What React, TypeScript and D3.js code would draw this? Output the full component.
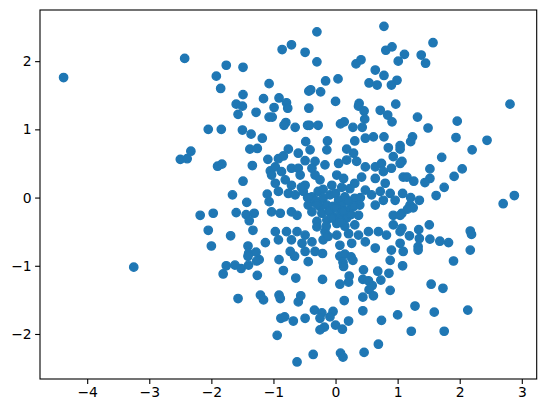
import React, { useEffect, useRef } from 'react';
import * as d3 from 'd3';

// values, [x, y]
const topPoints: [number, number][] = [
  [-4.38, 1.76],
  [-2.43, 2.04], [-1.76, 1.94], [-1.49, 1.91], [-1.92, 1.78], [-1.85, 1.6], [-1.07, 1.67], [-1.49, 1.51],
  [-1.16, 1.45], [-1.6, 1.37], [-1.5, 1.34], [-1.57, 1.22], [-1.28, 1.25], [-1.07, 1.18], [-1.02, 1.18],
  [-2.05, 1.0], [-1.84, 1.0], [-1.5, 0.99],
  [0.78, 2.51], [-0.3, 2.43], [-0.86, 2.17], [-0.71, 2.24], [-0.49, 2.13], [-0.3, 1.99], [0.81, 2.16],
  [0.91, 2.21], [1.11, 2.1], [1.01, 2.0], [0.33, 1.96], [0.41, 2.02], [0.64, 1.87], [0.78, 1.79],
  [0.99, 1.72], [0.9, 1.65], [0.54, 1.68], [0.67, 1.65], [0.04, 1.74], [-0.16, 1.71], [-0.4, 1.58],
  [-0.43, 1.56], [-0.24, 1.55], [-0.91, 1.46], [-0.79, 1.39], [-0.77, 1.31], [-0.99, 1.32], [-0.43, 1.31],
  [0.0, 1.41], [0.38, 1.38], [0.37, 1.34], [0.46, 1.27], [0.97, 1.37], [0.72, 1.28], [0.84, 1.21],
  [0.47, 1.15], [0.91, 1.11], [-0.8, 1.1], [-0.65, 1.03], [-0.45, 1.06], [-0.42, 1.06], [-0.28, 1.06],
  [0.08, 1.08], [0.14, 1.11], [0.28, 1.03], [0.43, 1.03],
  [1.57, 2.27], [1.38, 2.09], [1.45, 1.97], [2.81, 1.37], [1.32, 1.18], [1.96, 1.12], [1.49, 1.02],
  [-0.83, 1.06],
];

const middlePoints: [number, number][] = [
  [-1.36, 0.93], [-1.18, 0.87], [-2.33, 0.68], [-2.5, 0.56], [-2.39, 0.57], [-1.38, 0.71], [-1.26, 0.72],
  [-1.09, 0.56], [-1.9, 0.46], [-1.83, 0.49], [-1.34, 0.47], [-1.05, 0.39], [-1.49, 0.24], [-1.66, 0.04],
  [-1.43, -0.07], [-1.1, 0.05], [-1.07, -0.06], [-2.18, -0.26], [-1.97, -0.23], [-1.6, -0.22], [-1.44, -0.25],
  [-1.31, -0.23], [-1.39, -0.34], [-2.05, -0.48], [-1.69, -0.56], [-1.33, -0.48], [-2.0, -0.71], [-1.41, -0.71],
  [-1.13, -0.66], [-1.4, -0.82], [-1.28, -0.8], [-1.41, -0.86], [-1.23, -0.91], [-1.27, -0.93], [-1.76, -1.0],
  [-1.62, -0.99], [-1.52, -1.04], [-1.4, -0.99],
  [0.61, 0.89], [0.78, 0.89], [-0.48, 0.82], [-0.13, 0.83], [0.31, 0.83], [0.48, 0.87], [-0.76, 0.71],
  [-0.6, 0.65], [-0.41, 0.7], [-0.14, 0.7], [0.18, 0.71], [0.29, 0.65], [0.85, 0.73], [0.93, 0.6],
  [-0.92, 0.57], [-0.84, 0.61], [-0.49, 0.54], [-0.33, 0.53], [-0.17, 0.48], [0.05, 0.5], [0.18, 0.55],
  [0.34, 0.53], [0.48, 0.45], [0.64, 0.45], [0.74, 0.5], [0.77, 0.38], [0.9, 0.43], [1.07, 0.53],
  [-0.97, 0.45], [-1.03, 0.33], [-0.87, 0.38], [-0.71, 0.43], [-0.6, 0.43], [-0.38, 0.43], [-0.57, 0.33],
  [-0.33, 0.33], [0.02, 0.33], [0.13, 0.28], [0.42, 0.3], [0.31, 0.21], [0.64, 0.28], [0.8, 0.21],
  [-0.97, 0.21], [-0.81, 0.26], [-0.71, 0.18], [-0.49, 0.18], [-0.25, 0.26], [-0.06, 0.18], [0.23, 0.13],
  [0.48, 0.11], [0.58, 0.04], [0.72, 0.09], [0.88, 0.06], [0.96, -0.04], [-0.92, 0.09], [-0.76, 0.06],
  [-0.65, 0.04], [-0.52, 0.09], [-0.38, 0.01], [-0.28, 0.09], [-0.2, -0.01], [-0.09, 0.04], [0.05, -0.04],
  [0.15, 0.01], [0.31, -0.01], [0.39, -0.11], [0.64, -0.11], [0.77, -0.04], [-1.03, -0.21], [-0.89, -0.23],
  [-0.71, -0.21], [-0.62, -0.26], [-0.44, -0.11], [-0.33, -0.04], [-0.25, -0.13], [-0.14, -0.11], [-0.04, -0.13],
  [0.1, -0.11], [0.21, -0.18], [0.29, -0.13], [0.37, -0.26], [-0.38, -0.21], [-0.22, -0.23], [-0.06, -0.26],
  [0.07, -0.26], [-0.3, -0.35], [-0.14, -0.33], [0.02, -0.38], [0.18, -0.3], [0.31, -0.4], [0.93, -0.26],
  [1.07, -0.23], [0.93, -0.4], [0.69, -0.5], [0.53, -0.5], [0.82, -0.55], [1.07, -0.45], [-0.97, -0.5],
  [-0.79, -0.5], [-0.62, -0.5], [-0.49, -0.55], [-0.3, -0.43], [-0.17, -0.5], [-0.71, -0.62], [-0.54, -0.67],
  [-0.38, -0.65], [-0.2, -0.62], [-0.92, -0.62], [0.07, -0.7], [0.26, -0.67], [0.48, -0.65], [0.64, -0.74],
  [0.37, -0.55], [0.21, -0.53], [0.02, -0.55], [-0.12, -0.57], [-0.49, -0.79], [-0.33, -0.79], [-0.73, -0.79],
  [0.9, -0.77],
  [1.24, 0.89], [1.21, 0.82], [1.04, 0.76], [1.04, 0.71], [1.94, 0.88], [2.44, 0.84], [2.2, 0.7],
  [1.71, 0.59], [1.04, 0.5], [1.52, 0.42], [2.04, 0.42], [1.91, 0.31], [1.09, 0.3], [1.15, 0.3],
  [1.26, 0.24], [1.52, 0.28], [1.44, 0.22], [1.75, 0.15], [1.62, 0.03], [1.08, 0.06], [1.21, 0.0],
  [1.35, -0.04], [1.2, -0.11], [1.25, -0.15], [1.16, -0.17], [1.04, -0.26], [2.88, 0.03], [2.7, -0.09],
  [1.51, -0.4], [1.34, -0.47], [1.04, -0.5], [1.19, -0.56], [1.35, -0.6], [1.52, -0.61], [1.68, -0.64],
  [1.82, -0.66], [2.17, -0.49], [2.19, -0.54], [1.04, -0.67], [1.33, -0.72], [1.09, -0.79], [1.33, -0.77],
  [2.17, -0.77], [1.9, -0.93],
  [-0.91, -0.91], [-0.66, -0.86], [-0.44, -0.94], [-0.21, -0.82], [0.07, -0.86], [0.15, -0.83], [0.25, -0.87],
  [0.28, -0.92], [0.12, -0.95], [0.88, -0.92],
];

// dense core, partly overlapping marks
const corePoints: [number, number][] = [
  [-0.1, -0.2], [0.0, -0.15], [0.12, -0.2], [0.25, -0.25], [-0.3, -0.1], [-0.45, 0.0], [-0.55, 0.15],
  [0.2, -0.05], [0.0, 0.06], [-0.2, 0.12], [0.1, 0.15], [0.4, 0.0], [-0.15, -0.42], [0.15, -0.42],
  [-0.05, -0.3], [0.08, -0.35],
];

const bottomPoints: [number, number][] = [
  [-3.25, -1.02], [-1.81, -1.12], [-1.26, -1.14], [-1.57, -1.48], [-1.21, -1.43], [-1.16, -1.5],
  [-0.84, -1.07], [-0.64, -1.18], [-0.21, -1.2], [0.13, -1.01], [0.22, -1.15], [0.07, -1.27], [0.21, -1.24],
  [0.45, -1.06], [0.44, -1.2], [0.53, -1.22], [0.59, -1.29], [0.54, -1.35], [0.68, -1.08], [0.73, -1.21],
  [0.86, -1.11], [1.08, -1.0], [0.88, -1.36], [0.61, -1.44], [0.44, -1.46], [0.14, -1.51], [-0.91, -1.43],
  [-0.89, -1.48], [-0.56, -1.44], [-0.6, -1.53], [-0.34, -1.65], [-0.22, -1.69], [-0.04, -1.67], [-0.09, -1.75],
  [-0.25, -1.77], [-0.18, -1.9], [-0.25, -1.94], [0.0, -1.87], [0.11, -1.93], [0.21, -1.81], [0.44, -1.66],
  [0.74, -1.8], [1.0, -1.72], [0.69, -2.15], [0.46, -2.27], [0.08, -2.28], [0.12, -2.34], [-0.36, -2.3],
  [-0.62, -2.41], [-0.94, -2.02], [-0.88, -1.77], [-0.82, -1.75], [-0.68, -1.81], [-0.49, -1.77],
  [1.54, -1.27], [1.73, -1.33], [1.28, -1.59], [1.59, -1.68], [2.13, -1.65], [1.22, -1.96], [1.75, -1.96],
];

const xTicks = [-4, -3, -2, -1, 0, 1, 2, 3];
const yTicks = [-2, -1, 0, 1, 2];

const App = () => {
  const svgRef = useRef<SVGSVGElement | null>(null);

  useEffect(() => {
    if (!svgRef.current) return;

    const width = 546;
    const height = 413;
    const margin = { top: 10, right: 9.3, bottom: 34, left: 40 };
    const data = [...topPoints, ...middlePoints, ...corePoints, ...bottomPoints];

    const svg = d3.select(svgRef.current).attr('width', width).attr('height', height);
    svg.selectAll('*').remove();

    const xScale = d3
      .scaleLinear()
      .domain([-4.76, 3.24])
      .range([margin.left, width - margin.right]);

    const yScale = d3
      .scaleLinear()
      .domain([-2.66, 2.75])
      .range([height - margin.bottom, margin.top]);

    const fmt = (d: number) => String(d).replace('-', '\u2212');

    svg
      .append('g')
      .selectAll('circle')
      .data(data)
      .enter()
      .append('circle')
      .attr('cx', (d) => xScale(d[0]))
      .attr('cy', (d) => yScale(d[1]))
      .attr('r', 4.17)
      .attr('fill', '#1f77b4')
      .attr('stroke', '#1f77b4')
      .attr('stroke-width', 1.39);

    const xAxis = d3.axisBottom(xScale).tickValues(xTicks).tickFormat((d) => fmt(d as number)).tickSize(4.9).tickPadding(3.5);
    const yAxis = d3.axisLeft(yScale).tickValues(yTicks).tickFormat((d) => fmt(d as number)).tickSize(4.9).tickPadding(3.5);

    const gx = svg
      .append('g')
      .attr('transform', `translate(0, ${height - margin.bottom})`)
      .call(xAxis);
    const gy = svg
      .append('g')
      .attr('transform', `translate(${margin.left}, 0)`)
      .call(yAxis);

    [gx, gy].forEach((g) => {
      g.select('.domain').remove();
      g.selectAll('line').attr('stroke', '#000').attr('stroke-width', 1.1);
      g.selectAll('text')
        .attr('fill', '#000')
        .style('font-family', '"DejaVu Sans", sans-serif')
        .style('font-size', '13.9px');
    });

    // frame
    svg
      .append('rect')
      .attr('x', margin.left)
      .attr('y', margin.top)
      .attr('width', width - margin.left - margin.right)
      .attr('height', height - margin.top - margin.bottom)
      .attr('fill', 'none')
      .attr('stroke', '#000')
      .attr('stroke-width', 1.1);
  }, []);

  return (
    <div style={{ position: 'absolute', left: 0, top: 0, background: '#fff' }}>
      <svg ref={svgRef}></svg>
    </div>
  );
};

export default App;
